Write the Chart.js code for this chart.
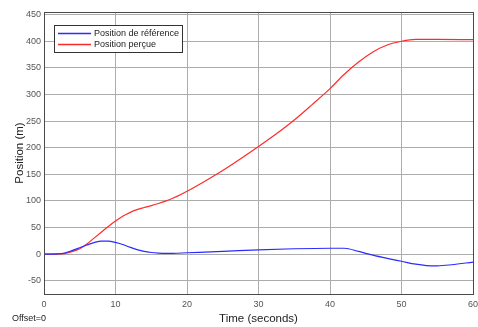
<!DOCTYPE html>
<html>
<head>
<meta charset="utf-8">
<script src="https://cdn.jsdelivr.net/npm/chart.js@4.4.0/dist/chart.umd.min.js"></script>
<style>
    html, body { margin: 0; padding: 0; background: #fff; }
    #wrap { width: 478px; height: 327px; }
</style>
</head>
<body>
<div id="wrap"><canvas id="posChart" width="478" height="327"></canvas></div>
<script>
const timeRef = [0, 2, 3, 4, 5, 6, 7, 8, 9, 10, 11, 12, 13, 14, 15, 16, 17, 18, 20, 25, 30, 35, 40, 42, 44, 46, 48, 50, 52, 53.5, 55, 57, 60];
const posRef = [0, 0.5, 2.5, 7, 12, 17, 21.5, 24.5, 24.5, 22, 18, 13, 8.5, 5, 3, 2, 1.5, 1.5, 2.5, 5, 8, 10, 11, 11, 5, -2, -8, -13.5, -19, -21.5, -22, -20, -15];

const timePerc = [0, 2, 3, 4, 5, 6, 7, 8, 9, 10, 11, 12, 13, 14, 15, 16, 17, 18, 19, 20, 22.5, 25, 27.5, 30, 32.5, 35, 37.5, 40, 42, 44, 46, 48, 50, 52, 55, 60];
const posPerc = [0, 0.3, 1.5, 5, 10, 19, 30, 41, 52, 62, 71, 78, 83.5, 87.5, 91, 95, 99.5, 105, 111, 118, 137, 157, 179, 202, 226, 252, 281, 311, 338, 361, 380, 393, 400, 403.5, 403.5, 403];

const xTicks = [0, 10, 20, 30, 40, 50, 60];
const yTicks = [-50, 0, 50, 100, 150, 200, 250, 300, 350, 400, 450];

const seriesNames = ['Position de référence', 'Position perçue'];
const seriesColors = ['#2b2bff', '#ff2b2b'];
const footNote = 'Offset=0';

const toPoints = (xs, ys) => xs.map((x, i) => ({ x: x, y: ys[i] }));

const fontFamily = '"Liberation Sans", Arial, sans-serif';

// boite autour du trace + legende interne + note en bas
const matlabLook = {
    id: 'matlabLook',
    afterDraw(chart) {
        const { ctx, chartArea: a } = chart;
        ctx.save();
        ctx.strokeStyle = '#4a4a4a';
        ctx.lineWidth = 1;
        ctx.strokeRect(a.left + 0.5, a.top + 0.5, a.right - a.left, a.bottom - a.top);

        const bx = a.left + 10, by = a.top + 13, bw = 128, bh = 27;
        ctx.fillStyle = '#fff';
        ctx.fillRect(bx, by, bw, bh);
        ctx.strokeStyle = '#333';
        ctx.strokeRect(bx + 0.5, by + 0.5, bw, bh);
        ctx.font = '9px ' + fontFamily;
        ctx.textBaseline = 'middle';
        chart.data.datasets.forEach((ds, i) => {
            const ly = by + 8.5 + i * 11;
            ctx.strokeStyle = ds.borderColor;
            ctx.lineWidth = 1.5;
            ctx.beginPath();
            ctx.moveTo(bx + 4, ly);
            ctx.lineTo(bx + 37, ly);
            ctx.stroke();
            ctx.fillStyle = '#222';
            ctx.fillText(ds.label, bx + 40, ly);
        });

        ctx.font = '9px ' + fontFamily;
        ctx.fillStyle = '#222';
        ctx.fillText(footNote, 12, 319);
        ctx.restore();
    }
};

new Chart(document.getElementById('posChart'), {
    type: 'line',
    data: {
        datasets: [
            { label: seriesNames[0], data: toPoints(timeRef, posRef), borderColor: seriesColors[0], borderWidth: 1.2, pointRadius: 0, cubicInterpolationMode: 'monotone', fill: false },
            { label: seriesNames[1], data: toPoints(timePerc, posPerc), borderColor: seriesColors[1], borderWidth: 1.2, pointRadius: 0, cubicInterpolationMode: 'monotone', fill: false }
        ]
    },
    options: {
        responsive: false,
        animation: false,
        layout: { padding: { top: 12, right: 5, left: 0, bottom: 0 } },
        plugins: { legend: { display: false }, tooltip: { enabled: false } },
        scales: {
            x: {
                type: 'linear',
                min: 0,
                max: 60,
                afterBuildTicks: s => { s.ticks = xTicks.map(v => ({ value: v })); },
                afterFit: s => { s.height = 33; s.paddingLeft = 0; s.paddingRight = 0; },
                grid: { color: '#acacac', drawTicks: false },
                border: { display: false },
                ticks: { color: '#555', font: { size: 9, family: fontFamily }, padding: 5, maxRotation: 0 },
                title: { display: true, text: 'Time (seconds)', color: '#222', font: { size: 11.5, family: fontFamily }, padding: { top: 0, bottom: 1 } }
            },
            y: {
                min: -75,
                max: 455,
                afterBuildTicks: s => { s.ticks = yTicks.map(v => ({ value: v })); },
                afterFit: s => { s.width = 44; s.paddingTop = 0; s.paddingBottom = 0; },
                grid: { color: '#acacac', drawTicks: false },
                border: { display: false },
                ticks: { color: '#555', font: { size: 9, family: fontFamily }, padding: 3 },
                title: { display: true, text: 'Position (m)', color: '#222', font: { size: 11.5, family: fontFamily }, padding: { top: 13, bottom: 0 } }
            }
        }
    },
    plugins: [matlabLook]
});
</script>
</body>
</html>
